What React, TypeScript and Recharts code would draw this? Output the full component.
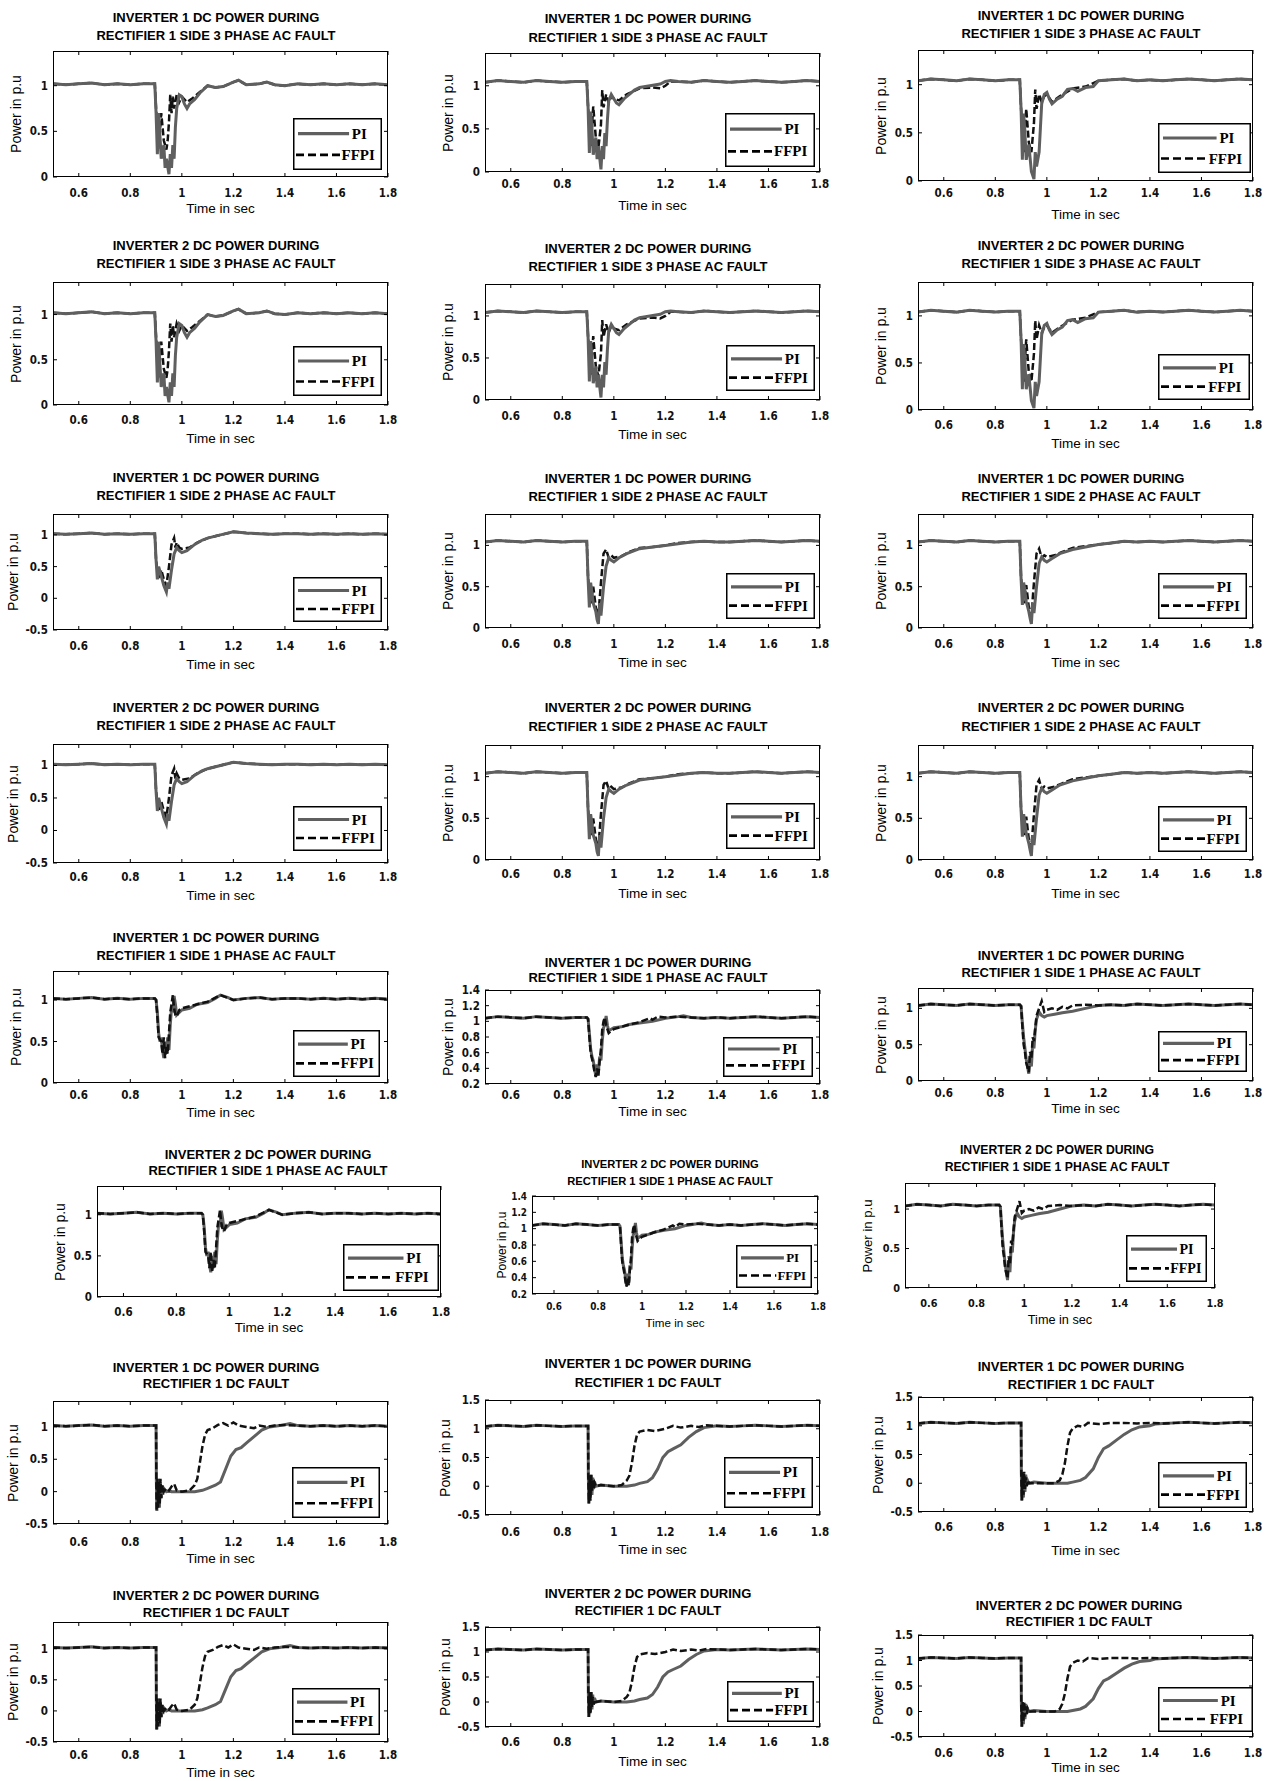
import React from "react";
import { LineChart, Line, XAxis, YAxis } from "recharts";

type Pt = [number, number];

// steady state before the fault
const pre1: Pt[] = [[0.5, 1.02], [0.55, 1.01], [0.6, 1.02], [0.65, 1.03], [0.7, 1.01], [0.75, 1.02], [0.8, 1.01], [0.85, 1.02], [0.895, 1.02]];
const pre2: Pt[] = [[0.5, 1.04], [0.55, 1.06], [0.6, 1.05], [0.65, 1.04], [0.7, 1.06], [0.75, 1.05], [0.8, 1.04], [0.85, 1.05], [0.895, 1.05]];
// steady state after recovery
const tail1: Pt[] = [[1.45, 1.02], [1.5, 1.01], [1.55, 1.02], [1.6, 1.01], [1.65, 1.02], [1.7, 1.01], [1.75, 1.02], [1.8, 1.01]];
const tail2: Pt[] = [[1.45, 1.04], [1.5, 1.05], [1.55, 1.06], [1.6, 1.05], [1.65, 1.04], [1.7, 1.05], [1.75, 1.06], [1.8, 1.05]];

// 3 phase AC fault
const ac3c1PI: Pt[] = [...pre1, [0.9, 0.7], [0.905, 0.25], [0.91, 0.7], [0.915, 0.45], [0.92, 0.2], [0.93, 0.35], [0.935, 0.1], [0.94, 0.2], [0.95, 0.03], [0.955, 0.25], [0.96, 0.1], [0.965, 0.35], [0.97, 0.2], [0.975, 0.55], [0.98, 0.75], [0.99, 0.9], [1.0, 0.88], [1.01, 0.8], [1.02, 0.75], [1.03, 0.8], [1.05, 0.85], [1.07, 0.92], [1.1, 1.0], [1.13, 0.98], [1.16, 0.99], [1.2, 1.04], [1.22, 1.06], [1.25, 1.01], [1.3, 1.02], [1.33, 1.04], [1.36, 1.01], [1.4, 1.0], ...tail1];
const ac3c1FFPI: Pt[] = [...pre1, [0.9, 0.75], [0.91, 0.3], [0.92, 0.7], [0.93, 0.4], [0.94, 0.3], [0.945, 0.4], [0.95, 0.6], [0.955, 0.9], [0.96, 0.7], [0.965, 0.88], [0.97, 0.75], [0.98, 0.9], [0.99, 0.82], [1.0, 0.88], [1.02, 0.82], [1.04, 0.86], [1.07, 0.93], [1.1, 1.0], [1.13, 0.98], [1.16, 0.99], [1.2, 1.04], [1.22, 1.06], [1.25, 1.01], [1.3, 1.02], [1.33, 1.04], [1.36, 1.01], [1.4, 1.0], ...tail1];
const ac3c2PI: Pt[] = [...pre2, [0.9, 0.75], [0.905, 0.22], [0.91, 0.7], [0.915, 0.5], [0.92, 0.2], [0.93, 0.4], [0.935, 0.15], [0.94, 0.3], [0.95, 0.03], [0.955, 0.3], [0.96, 0.15], [0.965, 0.45], [0.97, 0.3], [0.975, 0.6], [0.98, 0.82], [0.99, 0.9], [1.0, 0.85], [1.01, 0.8], [1.02, 0.78], [1.04, 0.85], [1.06, 0.9], [1.08, 0.95], [1.1, 0.98], [1.14, 1.0], [1.18, 1.02], [1.2, 1.05], [1.22, 1.06], [1.25, 1.05], [1.3, 1.04], [1.35, 1.06], [1.4, 1.05], ...tail2];
const ac3c2FFPI: Pt[] = [...pre2, [0.9, 0.75], [0.91, 0.3], [0.92, 0.76], [0.93, 0.4], [0.94, 0.28], [0.95, 0.55], [0.955, 0.95], [0.96, 0.75], [0.97, 0.9], [0.98, 0.8], [0.99, 0.88], [1.0, 0.85], [1.02, 0.83], [1.05, 0.9], [1.1, 0.97], [1.15, 0.98], [1.18, 0.97], [1.2, 1.0], [1.22, 1.05], [1.25, 1.05], [1.3, 1.04], [1.35, 1.06], [1.4, 1.05], ...tail2];
const ac3c3PI: Pt[] = [...pre2, [0.9, 0.75], [0.905, 0.22], [0.91, 0.7], [0.915, 0.5], [0.92, 0.22], [0.93, 0.38], [0.94, 0.1], [0.95, 0.02], [0.955, 0.3], [0.96, 0.15], [0.97, 0.3], [0.975, 0.55], [0.98, 0.8], [0.99, 0.9], [1.0, 0.92], [1.01, 0.85], [1.02, 0.8], [1.04, 0.85], [1.06, 0.88], [1.08, 0.95], [1.1, 0.96], [1.12, 0.93], [1.15, 0.97], [1.18, 0.98], [1.2, 1.04], [1.25, 1.05], [1.3, 1.06], [1.35, 1.04], [1.4, 1.05], ...tail2];
const ac3c3FFPI: Pt[] = [...pre2, [0.9, 0.75], [0.91, 0.3], [0.92, 0.75], [0.93, 0.4], [0.94, 0.3], [0.95, 0.6], [0.955, 0.95], [0.96, 0.75], [0.97, 0.9], [0.98, 0.82], [0.99, 0.88], [1.0, 0.9], [1.02, 0.82], [1.05, 0.88], [1.1, 0.96], [1.15, 0.98], [1.2, 1.04], [1.25, 1.05], [1.3, 1.06], [1.35, 1.04], [1.4, 1.05], ...tail2];

// 2 phase AC fault
const ac2c1PI: Pt[] = [...pre1, [0.9, 0.6], [0.905, 0.3], [0.91, 0.5], [0.92, 0.35], [0.93, 0.2], [0.94, 0.1], [0.945, 0.25], [0.95, 0.15], [0.96, 0.45], [0.97, 0.7], [0.98, 0.8], [0.99, 0.75], [1.0, 0.72], [1.02, 0.75], [1.05, 0.85], [1.08, 0.92], [1.1, 0.95], [1.15, 1.0], [1.2, 1.05], [1.25, 1.03], [1.3, 1.02], [1.35, 1.01], [1.4, 1.02], ...tail1];
const ac2c1FFPI: Pt[] = [...pre1, [0.9, 0.6], [0.91, 0.3], [0.92, 0.45], [0.93, 0.3], [0.94, 0.2], [0.95, 0.5], [0.96, 0.85], [0.97, 0.95], [0.975, 0.8], [0.98, 0.88], [0.99, 0.8], [1.0, 0.78], [1.03, 0.8], [1.06, 0.88], [1.1, 0.95], [1.15, 1.0], [1.2, 1.05], [1.25, 1.03], [1.3, 1.02], [1.35, 1.01], [1.4, 1.02], ...tail1];
const ac2c2PI: Pt[] = [...pre2, [0.9, 0.6], [0.905, 0.25], [0.91, 0.55], [0.92, 0.3], [0.93, 0.2], [0.935, 0.1], [0.94, 0.05], [0.945, 0.3], [0.95, 0.15], [0.96, 0.5], [0.97, 0.75], [0.98, 0.85], [0.99, 0.82], [1.0, 0.8], [1.02, 0.85], [1.05, 0.9], [1.1, 0.96], [1.15, 0.98], [1.2, 1.0], [1.25, 1.02], [1.3, 1.04], [1.35, 1.05], [1.4, 1.04], ...tail2];
const ac2c2FFPI: Pt[] = [...pre2, [0.9, 0.6], [0.91, 0.3], [0.92, 0.5], [0.93, 0.25], [0.94, 0.15], [0.95, 0.55], [0.96, 0.9], [0.97, 0.95], [0.98, 0.85], [0.99, 0.88], [1.0, 0.85], [1.03, 0.87], [1.06, 0.92], [1.1, 0.97], [1.15, 0.98], [1.2, 1.0], [1.25, 1.03], [1.3, 1.04], [1.35, 1.05], [1.4, 1.04], ...tail2];
const ac2c3PI: Pt[] = [...pre2, [0.9, 0.6], [0.905, 0.28], [0.91, 0.55], [0.92, 0.32], [0.93, 0.2], [0.935, 0.12], [0.94, 0.05], [0.945, 0.3], [0.95, 0.18], [0.96, 0.5], [0.97, 0.78], [0.98, 0.86], [0.99, 0.82], [1.0, 0.8], [1.02, 0.84], [1.05, 0.9], [1.1, 0.95], [1.15, 0.98], [1.2, 1.01], [1.25, 1.03], [1.3, 1.05], [1.35, 1.04], [1.4, 1.05], ...tail2];
const ac2c3FFPI: Pt[] = [...pre2, [0.9, 0.6], [0.91, 0.3], [0.92, 0.52], [0.93, 0.25], [0.94, 0.15], [0.95, 0.55], [0.96, 0.9], [0.97, 0.96], [0.98, 0.85], [0.99, 0.88], [1.0, 0.86], [1.03, 0.88], [1.06, 0.92], [1.1, 0.97], [1.15, 0.99], [1.2, 1.01], [1.25, 1.03], [1.3, 1.05], [1.35, 1.04], [1.4, 1.05], ...tail2];

// 1 phase AC fault
const ac1c1PI: Pt[] = [...pre1, [0.9, 1.0], [0.905, 0.85], [0.91, 0.6], [0.915, 0.5], [0.92, 0.55], [0.925, 0.4], [0.93, 0.3], [0.935, 0.5], [0.94, 0.35], [0.945, 0.55], [0.95, 0.4], [0.955, 0.7], [0.96, 0.9], [0.965, 0.85], [0.97, 1.05], [0.975, 0.95], [0.98, 0.82], [0.99, 0.85], [1.0, 0.88], [1.03, 0.9], [1.06, 0.95], [1.1, 0.97], [1.13, 1.02], [1.15, 1.06], [1.18, 1.03], [1.2, 1.0], [1.25, 1.02], [1.3, 1.03], [1.35, 1.01], [1.4, 1.02], ...tail1];
const ac1c1FFPI: Pt[] = [...pre1, [0.9, 1.0], [0.905, 0.8], [0.91, 0.55], [0.92, 0.5], [0.925, 0.35], [0.93, 0.55], [0.935, 0.3], [0.94, 0.45], [0.945, 0.35], [0.95, 0.6], [0.955, 0.85], [0.96, 0.95], [0.965, 1.06], [0.97, 0.9], [0.975, 0.82], [0.98, 0.8], [0.99, 0.88], [1.0, 0.9], [1.05, 0.94], [1.1, 0.98], [1.15, 1.06], [1.2, 1.0], [1.25, 1.02], [1.3, 1.03], [1.35, 1.01], [1.4, 1.02], ...tail1];
const ac1c2PI: Pt[] = [...pre2, [0.9, 1.03], [0.905, 0.85], [0.91, 0.65], [0.915, 0.55], [0.92, 0.5], [0.925, 0.4], [0.93, 0.3], [0.935, 0.45], [0.94, 0.35], [0.945, 0.55], [0.95, 0.5], [0.955, 0.75], [0.96, 0.92], [0.965, 0.95], [0.97, 1.07], [0.975, 0.95], [0.98, 0.88], [0.99, 0.9], [1.0, 0.92], [1.03, 0.93], [1.06, 0.96], [1.1, 0.98], [1.15, 1.0], [1.2, 1.04], [1.25, 1.06], [1.27, 1.07], [1.3, 1.05], [1.35, 1.04], [1.4, 1.05], ...tail2];
const ac1c2FFPI: Pt[] = [...pre2, [0.9, 1.03], [0.905, 0.8], [0.91, 0.6], [0.92, 0.45], [0.925, 0.35], [0.93, 0.29], [0.935, 0.4], [0.94, 0.3], [0.945, 0.5], [0.95, 0.65], [0.955, 0.9], [0.96, 1.0], [0.965, 1.05], [0.97, 0.95], [0.98, 0.85], [0.99, 0.88], [1.0, 0.9], [1.05, 0.95], [1.1, 0.99], [1.14, 1.04], [1.15, 1.02], [1.17, 1.06], [1.2, 1.05], [1.25, 1.06], [1.3, 1.05], [1.35, 1.04], [1.4, 1.05], ...tail2];
const ac1c3PI: Pt[] = [...pre2, [0.9, 1.03], [0.905, 0.8], [0.91, 0.6], [0.915, 0.45], [0.92, 0.3], [0.925, 0.2], [0.93, 0.1], [0.935, 0.35], [0.94, 0.2], [0.945, 0.5], [0.95, 0.45], [0.955, 0.7], [0.96, 0.85], [0.97, 0.95], [0.98, 0.9], [0.99, 0.88], [1.0, 0.9], [1.03, 0.92], [1.06, 0.94], [1.1, 0.96], [1.15, 1.0], [1.2, 1.04], [1.25, 1.05], [1.3, 1.04], [1.35, 1.06], [1.4, 1.05], ...tail2];
const ac1c3FFPI: Pt[] = [...pre2, [0.9, 1.03], [0.905, 0.75], [0.91, 0.5], [0.915, 0.4], [0.92, 0.25], [0.93, 0.12], [0.935, 0.4], [0.94, 0.3], [0.945, 0.6], [0.95, 0.55], [0.96, 0.9], [0.97, 1.0], [0.98, 1.1], [0.99, 0.95], [1.0, 0.98], [1.02, 1.0], [1.04, 0.98], [1.06, 1.02], [1.08, 1.0], [1.1, 1.04], [1.15, 1.05], [1.2, 1.04], [1.25, 1.05], [1.3, 1.04], [1.35, 1.06], [1.4, 1.05], ...tail2];

// rectifier DC fault
const dcc1PI: Pt[] = [...pre1, [0.9, 1.02], [0.901, 0.2], [0.903, -0.3], [0.906, 0.1], [0.908, -0.2], [0.91, 0.2], [0.913, -0.25], [0.916, 0.15], [0.92, -0.1], [0.923, 0.1], [0.926, -0.05], [0.93, 0.05], [0.94, 0.0], [0.95, 0.02], [0.96, 0.0], [1.0, 0.0], [1.05, 0.0], [1.08, 0.02], [1.1, 0.05], [1.13, 0.1], [1.15, 0.15], [1.17, 0.35], [1.19, 0.55], [1.21, 0.65], [1.23, 0.68], [1.25, 0.75], [1.28, 0.85], [1.31, 0.95], [1.34, 1.0], [1.38, 1.02], [1.42, 1.05], ...tail1];
const dcc1FFPI: Pt[] = [...pre1, [0.9, 1.02], [0.901, 0.15], [0.902, -0.3], [0.905, 0.2], [0.908, -0.25], [0.911, 0.15], [0.914, -0.2], [0.917, 0.2], [0.92, -0.1], [0.925, 0.1], [0.93, 0.0], [0.94, 0.05], [0.95, 0.02], [0.96, 0.08], [0.97, 0.12], [0.98, 0.02], [1.0, 0.0], [1.03, 0.02], [1.05, 0.1], [1.06, 0.2], [1.07, 0.45], [1.08, 0.7], [1.09, 0.88], [1.1, 0.95], [1.12, 0.98], [1.14, 1.03], [1.16, 1.06], [1.18, 1.02], [1.2, 1.07], [1.22, 1.02], [1.25, 1.0], [1.28, 0.98], [1.3, 1.02], [1.33, 1.0], [1.36, 1.02], [1.4, 1.03], ...tail1];
const dcc2PI: Pt[] = [...pre2, [0.9, 1.05], [0.901, 0.2], [0.903, -0.3], [0.906, 0.15], [0.909, -0.2], [0.912, 0.2], [0.915, -0.15], [0.918, 0.15], [0.921, -0.05], [0.925, 0.08], [0.93, 0.0], [0.95, 0.02], [1.0, 0.0], [1.05, 0.0], [1.08, 0.02], [1.1, 0.05], [1.13, 0.08], [1.15, 0.15], [1.17, 0.3], [1.19, 0.5], [1.21, 0.6], [1.23, 0.65], [1.26, 0.72], [1.29, 0.85], [1.32, 0.95], [1.35, 1.02], [1.4, 1.05], ...tail2];
const dcc2FFPI: Pt[] = [...pre2, [0.9, 1.05], [0.901, 0.15], [0.903, -0.3], [0.906, 0.2], [0.909, -0.25], [0.912, 0.2], [0.915, -0.1], [0.918, 0.1], [0.922, -0.05], [0.926, 0.05], [0.93, 0.0], [0.95, 0.02], [1.0, 0.0], [1.03, 0.02], [1.05, 0.1], [1.06, 0.18], [1.07, 0.4], [1.08, 0.7], [1.09, 0.9], [1.1, 0.95], [1.13, 0.98], [1.16, 0.96], [1.2, 1.0], [1.23, 1.05], [1.26, 1.02], [1.3, 1.05], [1.33, 1.03], [1.36, 1.06], [1.4, 1.05], ...tail2];
const dcc3PI: Pt[] = [...pre2, [0.9, 1.05], [0.901, 0.2], [0.903, -0.3], [0.906, 0.15], [0.909, -0.25], [0.912, 0.1], [0.915, -0.15], [0.918, 0.15], [0.921, -0.05], [0.925, 0.05], [0.93, 0.0], [0.95, 0.02], [1.0, 0.0], [1.05, 0.0], [1.08, 0.0], [1.1, 0.02], [1.13, 0.05], [1.15, 0.1], [1.18, 0.25], [1.2, 0.45], [1.22, 0.6], [1.24, 0.65], [1.27, 0.75], [1.3, 0.85], [1.33, 0.93], [1.36, 0.98], [1.4, 1.0], [1.42, 1.03], ...tail2];
const dcc3FFPI: Pt[] = [...pre2, [0.9, 1.05], [0.901, 0.1], [0.903, -0.3], [0.906, 0.2], [0.909, -0.2], [0.912, 0.2], [0.915, -0.1], [0.918, 0.1], [0.922, -0.05], [0.926, 0.05], [0.93, 0.0], [0.95, 0.0], [1.0, 0.0], [1.03, 0.0], [1.05, 0.05], [1.06, 0.15], [1.07, 0.35], [1.08, 0.65], [1.09, 0.88], [1.1, 0.95], [1.12, 1.0], [1.14, 0.98], [1.16, 1.05], [1.2, 1.03], [1.25, 1.05], [1.3, 1.05], [1.35, 1.04], [1.4, 1.05], ...tail2];

const X_TICKS = [0.6, 0.8, 1, 1.2, 1.4, 1.6, 1.8];
const YT_A = [0, 0.5, 1];
const YT_B = [-0.5, 0, 0.5, 1];
const YT_C = [0.2, 0.4, 0.6, 0.8, 1, 1.2, 1.4];
const YT_D = [-0.5, 0, 0.5, 1, 1.5];

const SHAPES: Record<string, { pi: Pt[]; ffpi: Pt[]; piOnTop: boolean }> = {
  ac3c1: { pi: ac3c1PI, ffpi: ac3c1FFPI, piOnTop: true },
  ac3c2: { pi: ac3c2PI, ffpi: ac3c2FFPI, piOnTop: true },
  ac3c3: { pi: ac3c3PI, ffpi: ac3c3FFPI, piOnTop: true },
  ac2c1: { pi: ac2c1PI, ffpi: ac2c1FFPI, piOnTop: true },
  ac2c2: { pi: ac2c2PI, ffpi: ac2c2FFPI, piOnTop: true },
  ac2c3: { pi: ac2c3PI, ffpi: ac2c3FFPI, piOnTop: true },
  ac1c1: { pi: ac1c1PI, ffpi: ac1c1FFPI, piOnTop: false },
  ac1c2: { pi: ac1c2PI, ffpi: ac1c2FFPI, piOnTop: false },
  ac1c3: { pi: ac1c3PI, ffpi: ac1c3FFPI, piOnTop: false },
  dcc1: { pi: dcc1PI, ffpi: dcc1FFPI, piOnTop: false },
  dcc2: { pi: dcc2PI, ffpi: dcc2FFPI, piOnTop: false },
  dcc3: { pi: dcc3PI, ffpi: dcc3FFPI, piOnTop: false },
};

type PanelCfg = {
  inv: number;
  fault: string;
  shape: string;
  box: [number, number, number, number];
  y: [number, number];
  yt: number[];
  tx: number;
  ty: [number, number];
  xl: number;
  tl: number;
  leg: [number, number, number, number];
  fs?: number;
};

const F3 = "SIDE 3 PHASE AC FAULT";
const F2 = "SIDE 2 PHASE AC FAULT";
const F1 = "SIDE 1 PHASE AC FAULT";
const FD = "DC FAULT";

// page layout of the 8 x 3 grid
const PANELS: PanelCfg[] = [
  { inv: 1, fault: F3, shape: "ac3c1", box: [53, 51, 335, 126], y: [0, 1.38], yt: YT_A, tx: 216, ty: [17, 35], xl: 193, tl: 209, leg: [293, 118, 89, 52] },
  { inv: 1, fault: F3, shape: "ac3c2", box: [485, 53, 335, 119], y: [0, 1.38], yt: YT_A, tx: 648, ty: [18, 37], xl: 184, tl: 206, leg: [725, 113, 90, 54] },
  { inv: 1, fault: F3, shape: "ac3c3", box: [918, 50, 335, 131], y: [0, 1.36], yt: YT_A, tx: 1081, ty: [15, 33], xl: 193, tl: 215, leg: [1158, 123, 93, 50] },
  { inv: 2, fault: F3, shape: "ac3c1", box: [53, 282, 335, 123], y: [0, 1.36], yt: YT_A, tx: 216, ty: [245, 263], xl: 420, tl: 439, leg: [293, 346, 89, 50] },
  { inv: 2, fault: F3, shape: "ac3c2", box: [485, 284, 335, 116], y: [0, 1.38], yt: YT_A, tx: 648, ty: [248, 266], xl: 416, tl: 435, leg: [726, 345, 89, 46] },
  { inv: 2, fault: F3, shape: "ac3c3", box: [918, 282, 335, 128], y: [0, 1.36], yt: YT_A, tx: 1081, ty: [245, 263], xl: 425, tl: 444, leg: [1158, 354, 92, 46] },
  { inv: 1, fault: F2, shape: "ac2c1", box: [53, 514, 335, 116], y: [-0.5, 1.33], yt: YT_B, tx: 216, ty: [477, 495], xl: 646, tl: 665, leg: [293, 577, 89, 45] },
  { inv: 1, fault: F2, shape: "ac2c2", box: [485, 514, 335, 114], y: [0, 1.38], yt: YT_A, tx: 648, ty: [478, 496], xl: 644, tl: 663, leg: [726, 573, 89, 46] },
  { inv: 1, fault: F2, shape: "ac2c3", box: [918, 514, 335, 114], y: [0, 1.38], yt: YT_A, tx: 1081, ty: [478, 496], xl: 644, tl: 663, leg: [1158, 573, 89, 46] },
  { inv: 2, fault: F2, shape: "ac2c1", box: [53, 744, 335, 119], y: [-0.5, 1.33], yt: YT_B, tx: 216, ty: [707, 725], xl: 877, tl: 896, leg: [293, 806, 89, 45] },
  { inv: 2, fault: F2, shape: "ac2c2", box: [485, 745, 335, 115], y: [0, 1.38], yt: YT_A, tx: 648, ty: [707, 726], xl: 874, tl: 894, leg: [726, 803, 89, 46] },
  { inv: 2, fault: F2, shape: "ac2c3", box: [918, 745, 335, 115], y: [0, 1.38], yt: YT_A, tx: 1081, ty: [707, 726], xl: 874, tl: 894, leg: [1158, 806, 89, 46] },
  { inv: 1, fault: F1, shape: "ac1c1", box: [53, 971, 335, 112], y: [0, 1.35], yt: YT_A, tx: 216, ty: [937, 955], xl: 1095, tl: 1113, leg: [293, 1030, 87, 47] },
  { inv: 1, fault: F1, shape: "ac1c2", box: [485, 990, 335, 94], y: [0.2, 1.4], yt: YT_C, tx: 648, ty: [962, 977], xl: 1095, tl: 1112, leg: [723, 1037, 90, 40] },
  { inv: 1, fault: F1, shape: "ac1c3", box: [918, 988, 335, 93], y: [0, 1.28], yt: YT_A, tx: 1081, ty: [955, 972], xl: 1093, tl: 1109, leg: [1158, 1031, 89, 41] },
  { inv: 2, fault: F1, shape: "ac1c1", box: [97, 1186, 344, 111], y: [0, 1.35], yt: YT_A, tx: 268, ty: [1154, 1170], xl: 1312, tl: 1328, leg: [343, 1244, 96, 47] },
  { inv: 2, fault: F1, shape: "ac1c2", box: [532, 1196, 286, 98], y: [0.2, 1.4], yt: YT_C, tx: 670, ty: [1165, 1182], xl: 1306, tl: 1323, leg: [736, 1245, 76, 43], fs: 0.86 },
  { inv: 2, fault: F1, shape: "ac1c3", box: [905, 1183, 310, 105], y: [0, 1.33], yt: YT_A, tx: 1057, ty: [1150, 1167], xl: 1303, tl: 1320, leg: [1126, 1235, 81, 47], fs: 0.94 },
  { inv: 1, fault: FD, shape: "dcc1", box: [53, 1401, 335, 123], y: [-0.5, 1.4], yt: YT_B, tx: 216, ty: [1367, 1383], xl: 1542, tl: 1559, leg: [292, 1467, 88, 51] },
  { inv: 1, fault: FD, shape: "dcc2", box: [485, 1400, 335, 115], y: [-0.5, 1.5], yt: YT_D, tx: 648, ty: [1363, 1382], xl: 1532, tl: 1550, leg: [724, 1457, 89, 51] },
  { inv: 1, fault: FD, shape: "dcc3", box: [918, 1397, 335, 115], y: [-0.5, 1.5], yt: YT_D, tx: 1081, ty: [1366, 1384], xl: 1527, tl: 1551, leg: [1158, 1462, 89, 46] },
  { inv: 2, fault: FD, shape: "dcc1", box: [53, 1622, 335, 120], y: [-0.5, 1.43], yt: YT_B, tx: 216, ty: [1595, 1612], xl: 1755, tl: 1773, leg: [292, 1688, 88, 47] },
  { inv: 2, fault: FD, shape: "dcc2", box: [485, 1627, 335, 100], y: [-0.5, 1.5], yt: YT_D, tx: 648, ty: [1593, 1610], xl: 1742, tl: 1762, leg: [727, 1681, 87, 41] },
  { inv: 2, fault: FD, shape: "dcc3", box: [918, 1635, 335, 102], y: [-0.5, 1.5], yt: YT_D, tx: 1079, ty: [1605, 1621], xl: 1753, tl: 1768, leg: [1158, 1687, 95, 45] },
];

const PI_COLOR = "#5f5f5f";
const TICK_FONT = "'Liberation Sans Narrow', 'Arial Narrow', 'DejaVu Sans Condensed', sans-serif";
const SANS = "'Liberation Sans', Arial, sans-serif";
const SERIF = "'Liberation Serif', 'Times New Roman', serif";

const rows = (pts: Pt[]) => pts.map(([t, v]) => ({ t, v }));

function centered(x: number, y: number, extra: React.CSSProperties = {}): React.CSSProperties {
  return { position: "absolute", left: x, top: y, transform: "translate(-50%, -50%)", whiteSpace: "nowrap", lineHeight: 1, ...extra };
}

function LegendBox({ leg, fs }: { leg: [number, number, number, number]; fs: number }) {
  const [x, y, w, h] = leg;
  const r1 = h * 0.3;
  const r2 = h * 0.71;
  const font = { fontFamily: SERIF, fontWeight: 700, fontSize: 15 * fs, fill: "#000" };
  return (
    <svg style={{ position: "absolute", left: x, top: y }} width={w} height={h}>
      <rect x={0.75} y={0.75} width={w - 1.5} height={h - 1.5} fill="#fff" stroke="#000" strokeWidth={1.5} />
      <line x1={5} x2={w * 0.63} y1={r1} y2={r1} stroke={PI_COLOR} strokeWidth={3.2} />
      <text x={w * 0.66} y={r1} dominantBaseline="central" {...font}>PI</text>
      <line x1={3} x2={w * 0.53} y1={r2} y2={r2} stroke="#000" strokeWidth={2.6} strokeDasharray="8 4" />
      <text x={w * 0.545} y={r2} dominantBaseline="central" {...font}>FFPI</text>
    </svg>
  );
}

function Panel({ p }: { p: PanelCfg }) {
  const [bx, by, bw, bh] = p.box;
  const fs = p.fs ?? 1;
  const ML = 50;
  const MT = 10;
  const MB = 30;
  const MR = 10;
  const s = SHAPES[p.shape];
  const xOff = p.xl - (by + bh);
  const yLabOff = p.yt[0] < 0 ? 40 : fs < 0.9 ? 30 : 37;

  const xTick = (props: any) => {
    const { x, y, payload } = props;
    return (
      <g>
        <line x1={x} x2={x} y1={y} y2={y - 4} stroke="#000" />
        <line x1={x} x2={x} y1={y - bh} y2={y - bh + 4} stroke="#000" />
        <text x={x} y={y + xOff} textAnchor="middle" dominantBaseline="central" fontFamily={TICK_FONT} fontWeight={700} fontSize={11.5 * fs} fill="#111">
          {String(payload.value)}
        </text>
      </g>
    );
  };
  const yTick = (props: any) => {
    const { x, y, payload } = props;
    return (
      <g>
        <line x1={x} x2={x + 4} y1={y} y2={y} stroke="#000" />
        <line x1={x + bw} x2={x + bw - 4} y1={y} y2={y} stroke="#000" />
        <text x={x - 5} y={y} textAnchor="end" dominantBaseline="central" fontFamily={TICK_FONT} fontWeight={700} fontSize={11.5 * fs} fill="#111">
          {String(payload.value)}
        </text>
      </g>
    );
  };

  const piLine = (
    <Line key="pi" data={rows(s.pi)} dataKey="v" type="linear" stroke={PI_COLOR} strokeWidth={3} dot={false} isAnimationActive={false} />
  );
  const ffpiLine = (
    <Line key="ffpi" data={rows(s.ffpi)} dataKey="v" type="linear" stroke="#111" strokeWidth={2.5} strokeDasharray="7 3" dot={false} isAnimationActive={false} />
  );

  return (
    <>
      <div style={centered(p.tx, p.ty[0], { fontFamily: SANS, fontWeight: 700, fontSize: 13 * fs })}>
        INVERTER {p.inv} DC POWER DURING
      </div>
      <div style={centered(p.tx, p.ty[1], { fontFamily: SANS, fontWeight: 700, fontSize: 13 * fs })}>
        RECTIFIER 1 {p.fault}
      </div>
      <div style={{ position: "absolute", left: bx - ML, top: by - MT }}>
        <LineChart width={bw + ML + MR} height={bh + MT + MB} margin={{ top: MT, right: MR, bottom: 0, left: 0 }}>
          <XAxis
            type="number"
            dataKey="t"
            domain={[0.5, 1.8]}
            ticks={X_TICKS}
            interval={0}
            allowDataOverflow
            height={MB}
            axisLine={false}
            tickLine={false}
            tickSize={0}
            tickMargin={0}
            tick={xTick}
          />
          <YAxis
            type="number"
            domain={p.y}
            ticks={p.yt}
            interval={0}
            allowDataOverflow
            width={ML}
            axisLine={false}
            tickLine={false}
            tickSize={0}
            tickMargin={0}
            tick={yTick}
          />
          {s.piOnTop ? [ffpiLine, piLine] : [piLine, ffpiLine]}
        </LineChart>
      </div>
      <div style={{ position: "absolute", left: bx, top: by, width: bw, height: bh, border: "1px solid #000", boxSizing: "border-box", pointerEvents: "none" }} />
      <div style={centered(bx - yLabOff, by + bh / 2, { fontFamily: SANS, fontSize: 14 * fs, transform: "translate(-50%, -50%) rotate(-90deg)" })}>
        Power in p.u
      </div>
      <div style={centered(bx + bw / 2, p.tl, { fontFamily: SANS, fontSize: 13.5 * fs })}>Time in sec</div>
      <LegendBox leg={p.leg} fs={fs} />
    </>
  );
}

export default function App() {
  return (
    <div style={{ position: "absolute", left: 0, top: 0, width: 1266, height: 1781, background: "#fff", color: "#000", overflow: "hidden" }}>
      {PANELS.map((p, i) => (
        <Panel key={i} p={p} />
      ))}
    </div>
  );
}
